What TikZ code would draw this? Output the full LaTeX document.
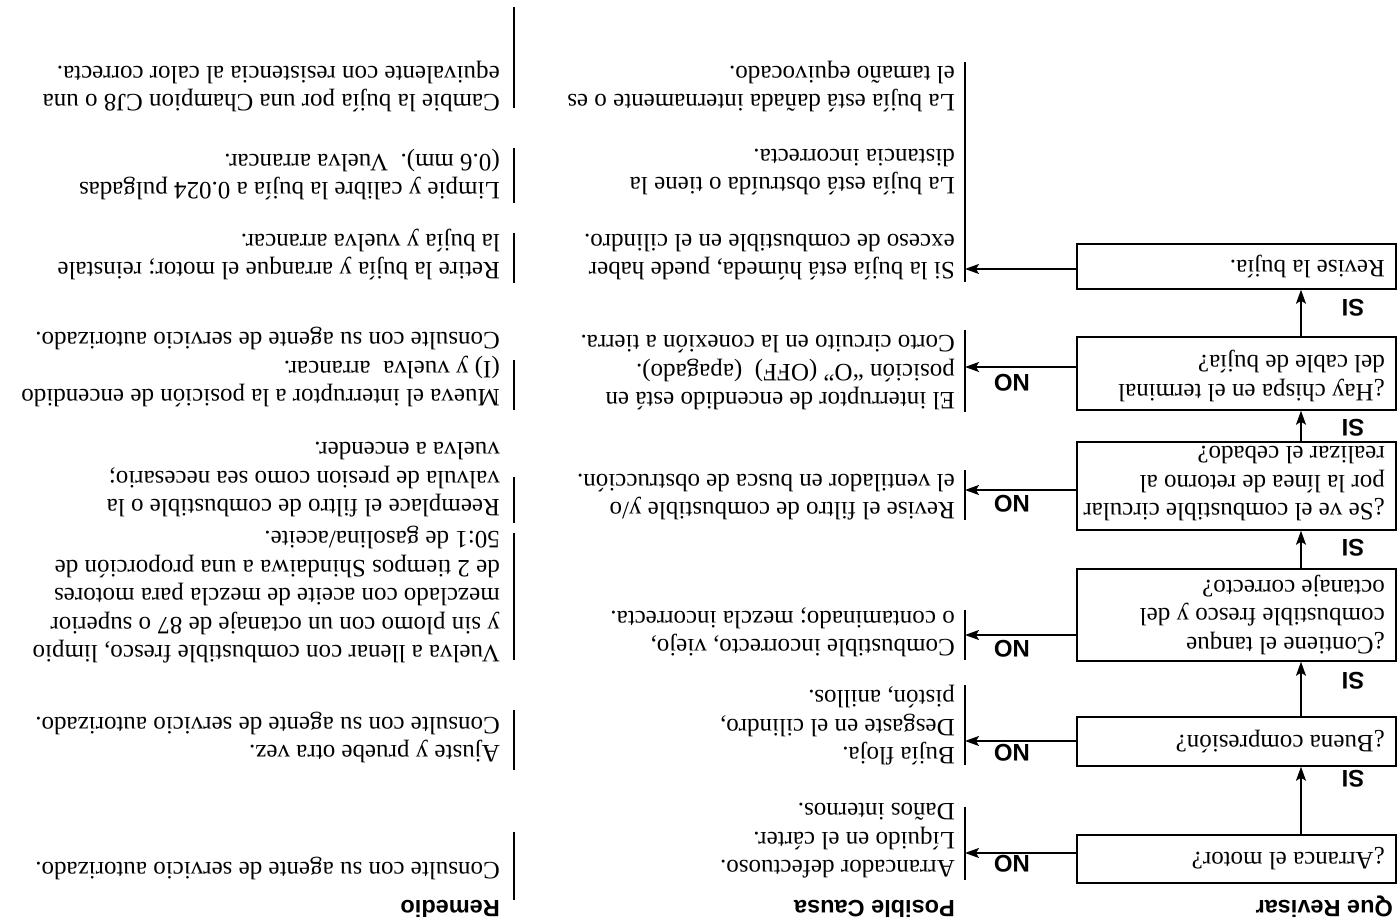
\documentclass[tikz,border=0pt]{standalone}
\usepackage{fontspec}
\setmainfont{Liberation Serif}
\newfontfamily\labelfont{Liberation Sans}
\usetikzlibrary{arrows.meta}
\begin{document}
\begin{tikzpicture}[x=1pt,y=-1pt,rotate=180,transform shape,
  txt/.style={anchor=base west,align=left,inner sep=0pt,font=\fontsize{25}{28.5}\selectfont},
  qbox/.style={draw,line width=1.5pt,minimum width=319pt,inner sep=0pt},
  qtxt/.style={anchor=west,align=left,inner sep=0pt,font=\fontsize{25}{28.5}\selectfont},
  lbl/.style={inner sep=0pt,font=\labelfont\bfseries\fontsize{24}{28}\selectfont},
  hdr/.style={anchor=base west,inner sep=0pt,font=\labelfont\bfseries\fontsize{23.5}{28}\selectfont},
  conn/.style={line width=1.5pt,-{Stealth[length=14pt,width=10pt,inset=3pt]}},
  bar/.style={line width=1.5pt}]
\useasboundingbox (0,0) rectangle (1400,921);

% headers
\node[hdr] (h1) at (7,21) {Que Revisar};
\node[hdr] (h2) at (445,21) {Posible Causa};
\node[hdr] (h3) at (900,21) {Remedio};

% question boxes
\node[qbox,minimum height=48pt] (q1) at (163.5,62) {};
\node[qbox,minimum height=49pt] (q2) at (163.5,179.5) {};
\node[qbox,minimum height=92pt] (q3) at (163.5,306) {};
\node[qbox,minimum height=88pt] (q4) at (163.5,435) {};
\node[qbox,minimum height=73pt] (q5) at (163.5,547.5) {};
\node[qbox,minimum height=45pt] (q6) at (163.5,654.5) {};
\node[qtxt] (q1t) at (15,62) {¿Arranca el motor?};
\node[qtxt] (q2t) at (15,179.5) {¿Buena compresión?};
\node[qtxt] (q3t) at (15,306) {¿Contiene el tanque\\combustible fresco y del\\octanaje correcto?};
\node[qtxt] (q4t) at (15,437) {¿Se ve el combustible circular\\por la línea de retorno al\\realizar el cebado?};
\node[qtxt] (q5t) at (15,545) {¿Hay chispa en el terminal\\del cable de bujía?};
\node[qtxt] (q6t) at (15,654.5) {Revise la bujía.};

% SI arrows
\coordinate (vx) at (99,0);
\draw[conn] (q1.south -| vx) -- (q2.north -| vx);
\draw[conn] (q2.south -| vx) -- (q3.north -| vx);
\draw[conn] (q3.south -| vx) -- (q4.north -| vx);
\draw[conn] (q4.south -| vx) -- (q5.north -| vx);
\draw[conn] (q5.south -| vx) -- (q6.north -| vx);
\node[lbl] (si1) at (47,142) {SI};
\node[lbl] (si2) at (47,240) {SI};
\node[lbl] (si3) at (47,373) {SI};
\node[lbl] (si4) at (47,493) {SI};
\node[lbl] (si5) at (47,613) {SI};

% middle bars
\coordinate (b1t) at (435,41);  \coordinate (b1b) at (435,114);
\coordinate (b2t) at (435,156); \coordinate (b2b) at (435,236);
\coordinate (b3t) at (435,261); \coordinate (b3b) at (435,311);
\coordinate (b4t) at (435,401); \coordinate (b4b) at (435,451);
\coordinate (b5t) at (435,509); \coordinate (b5b) at (435,591);
\coordinate (b6t) at (435,639); \coordinate (b6b) at (435,859);
\foreach \i in {1,...,6} {\draw[bar] (b\i t) -- (b\i b);}

% NO arrows
\coordinate (m1) at (435,68);
\coordinate (m2) at (435,180);
\coordinate (m3) at (435,286);
\coordinate (m4) at (435,431);
\coordinate (m5) at (435,554);
\coordinate (m6) at (435,652);
\draw[conn] (q1.east |- m1) -- (m1);
\draw[conn] (q2.east |- m2) -- (m2);
\draw[conn] (q3.east |- m3) -- (m3);
\draw[conn] (q4.east |- m4) -- (m4);
\draw[conn] (q5.east |- m5) -- (m5);
\draw[conn] (q6.east |- m6) -- (m6);
\node[lbl] (no1) at (388,57) {NO};
\node[lbl] (no2) at (388,168) {NO};
\node[lbl] (no3) at (388,272) {NO};
\node[lbl] (no4) at (388,417) {NO};
\node[lbl] (no5) at (388,538) {NO};

% causes (anchor = baseline of last line)
\node[txt] (c1) at (445,117) {Arrancador defectuoso.\\Líquido en el cárter.\\Daños internos.};
\node[txt] (c2) at (445,230) {Bujía floja.\\Desgaste en el cilindro,\\pistón, anillos.};
\node[txt] (c3) at (445,309.5) {Combustible incorrecto, viejo,\\o contaminado; mezcla incorrecta.};
\node[txt] (c4) at (445,446.5) {Revise el filtro de combustible y/o\\el ventilador en busca de obstrucción.};
\node[txt] (c5) at (445,585) {El interruptor de encendido está en\\posición “O” (OFF)\ \ (apagado).\\Corto circuito en la conexión a tierra.};
\node[txt] (c6) at (445,686.5) {Si la bujía está húmeda, puede haber\\exceso de combustible en el cilindro.};
\node[txt] (c7) at (445,771.5) {La bujía está obstruída o tiene la\\distancia incorrecta.};
\node[txt] (c8) at (445,854.5) {La bujía está dañada internamente o es\\el tamaño equivocado.};

% remedy bars
\coordinate (r1t) at (886,21);  \coordinate (r1b) at (886,89);
\coordinate (r2t) at (886,151); \coordinate (r2b) at (886,211);
\coordinate (r3t) at (886,261); \coordinate (r3b) at (886,388);
\coordinate (r4t) at (886,398); \coordinate (r4b) at (886,444);
\coordinate (r5t) at (886,511); \coordinate (r5b) at (886,561);
\coordinate (r6t) at (886,638); \coordinate (r6b) at (886,688);
\coordinate (r7t) at (886,718); \coordinate (r7b) at (886,773);
\coordinate (r8t) at (886,813); \coordinate (r8b) at (886,914);
\foreach \i in {1,...,8} {\draw[bar] (r\i t) -- (r\i b);}

% remedies (anchor = baseline of last line)
\node[txt] (r1) at (900,58) {Consulte con su agente de servicio autorizado.};
\node[txt] (r2) at (900,203.5) {Ajuste y pruebe otra vez.\\Consulte con su agente de servicio autorizado.};
\node[txt] (r3) at (900,389) {Vuelva a llenar con combustible fresco, limpio\\y sin plomo con un octanaje de 87 o superior\\mezclado con aceite de mezcla para motores\\de 2 tiempos Shindaiwa a una proporción de\\50:1 de gasolina/aceite.};
\node[txt] (r4) at (900,478) {Reemplace el filtro de combustible o la\\valvula de presion como sea necesario;\\vuelva a encender.};
\node[txt] (r5) at (900,588) {Mueva el interruptor a la posición de encendido\\(I) y vuelva\ \ arrancar.\\Consulte con su agente de servicio autorizado.};
\node[txt] (r6) at (900,686.5) {Retire la bujía y arranque el motor; reinstale\\la bujía y vuelva arrancar.};
\node[txt] (r7) at (900,766.5) {Limpie y calibre la bujía a 0.024 pulgadas\\(0.6 mm).\ \ Vuelva arrancar.};
\node[txt] (r8) at (900,854.5) {Cambie la bujía por una Champion CJ8 o una\\equivalente con resistencia al calor correcta.};
\end{tikzpicture}
\end{document}
